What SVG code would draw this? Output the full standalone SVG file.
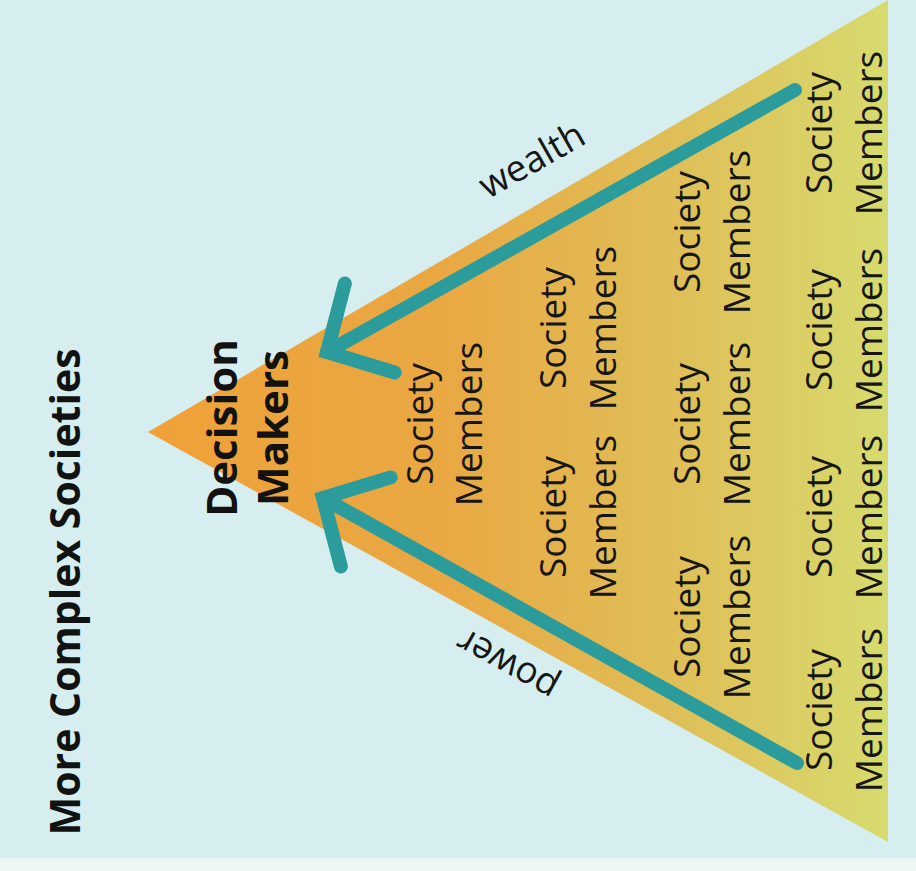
<svg xmlns="http://www.w3.org/2000/svg" width="916" height="871" viewBox="0 0 916 871">
  <defs>
    <linearGradient id="tri" x1="148" y1="0" x2="888" y2="0" gradientUnits="userSpaceOnUse">
      <stop offset="0" stop-color="#efa138"/>
      <stop offset="0.4" stop-color="#e9a843"/>
      <stop offset="0.72" stop-color="#dfbf58"/>
      <stop offset="1" stop-color="#d7db6e"/>
    </linearGradient>
    <marker id="head" markerUnits="userSpaceOnUse" viewBox="-80 -80 100 160" refX="0" refY="0" markerWidth="100" markerHeight="160" orient="auto" overflow="visible">
      <path d="M-49,-51 L0,0 L-49,51" fill="none" stroke="#2b9c9b" stroke-width="14" stroke-linecap="round" stroke-linejoin="miter"/>
    </marker>
    <style>
      .sm { font-family: "Open Sans", "Liberation Sans", sans-serif; font-size: 37px; fill: #161616; text-anchor: middle; }
      .bold { font-family: "Open Sans", "Liberation Sans", sans-serif; font-weight: bold; fill: #121212; text-anchor: middle; }
      .lbl { font-family: "Open Sans", "Liberation Sans", sans-serif; font-size: 37px; fill: #161616; text-anchor: middle; }
      .arrow { fill: none; stroke: #2b9c9b; stroke-width: 14; stroke-linecap: round; marker-end: url(#head); }
    </style>
  </defs>

  <rect x="0" y="0" width="916" height="871" fill="#d6eeef"/>
  <rect x="0" y="858" width="916" height="13" fill="#eef6f5"/>

  <g id="pyramid">
    <path d="M148,432 L888,0 L888,842 Z" fill="url(#tri)"/>
  </g>

  <g id="title">
    <text class="bold" font-size="41" transform="rotate(-90)" x="-592" y="80">More Complex Societies</text>
  </g>

  <g id="decision-makers" transform="rotate(-90)">
    <text class="bold" font-size="42" x="-428" y="237">Decision</text>
    <text class="bold" font-size="42" x="-428" y="288">Makers</text>
  </g>

  <g id="members-c1" transform="rotate(-90)">
    <text class="sm" x="-424" y="433">Society</text>
    <text class="sm" x="-424" y="482">Members</text>
  </g>
  <g id="members-c2a" transform="rotate(-90)">
    <text class="sm" x="-328" y="566">Society</text>
    <text class="sm" x="-328" y="616">Members</text>
  </g>
  <g id="members-c2b" transform="rotate(-90)">
    <text class="sm" x="-517" y="566">Society</text>
    <text class="sm" x="-517" y="616">Members</text>
  </g>
  <g id="members-c3a" transform="rotate(-90)">
    <text class="sm" x="-232" y="700">Society</text>
    <text class="sm" x="-232" y="750">Members</text>
  </g>
  <g id="members-c3b" transform="rotate(-90)">
    <text class="sm" x="-424" y="700">Society</text>
    <text class="sm" x="-424" y="750">Members</text>
  </g>
  <g id="members-c3c" transform="rotate(-90)">
    <text class="sm" x="-617" y="700">Society</text>
    <text class="sm" x="-617" y="750">Members</text>
  </g>
  <g id="members-c4a" transform="rotate(-90)">
    <text class="sm" x="-133" y="832">Society</text>
    <text class="sm" x="-133" y="882">Members</text>
  </g>
  <g id="members-c4b" transform="rotate(-90)">
    <text class="sm" x="-330" y="832">Society</text>
    <text class="sm" x="-330" y="882">Members</text>
  </g>
  <g id="members-c4c" transform="rotate(-90)">
    <text class="sm" x="-517" y="832">Society</text>
    <text class="sm" x="-517" y="882">Members</text>
  </g>
  <g id="members-c4d" transform="rotate(-90)">
    <text class="sm" x="-710" y="832">Society</text>
    <text class="sm" x="-710" y="882">Members</text>
  </g>

  <g id="connectors">
    <path id="wealth-arrow" class="arrow" d="M795,90 L327,352"/>
    <path id="power-arrow" class="arrow" d="M797,763 L323,498"/>
  </g>

  <g id="labels">
    <text class="lbl" transform="translate(538,171) rotate(-29.7)">wealth</text>
    <text class="lbl" transform="translate(513,654) rotate(209)">power</text>
  </g>
</svg>
